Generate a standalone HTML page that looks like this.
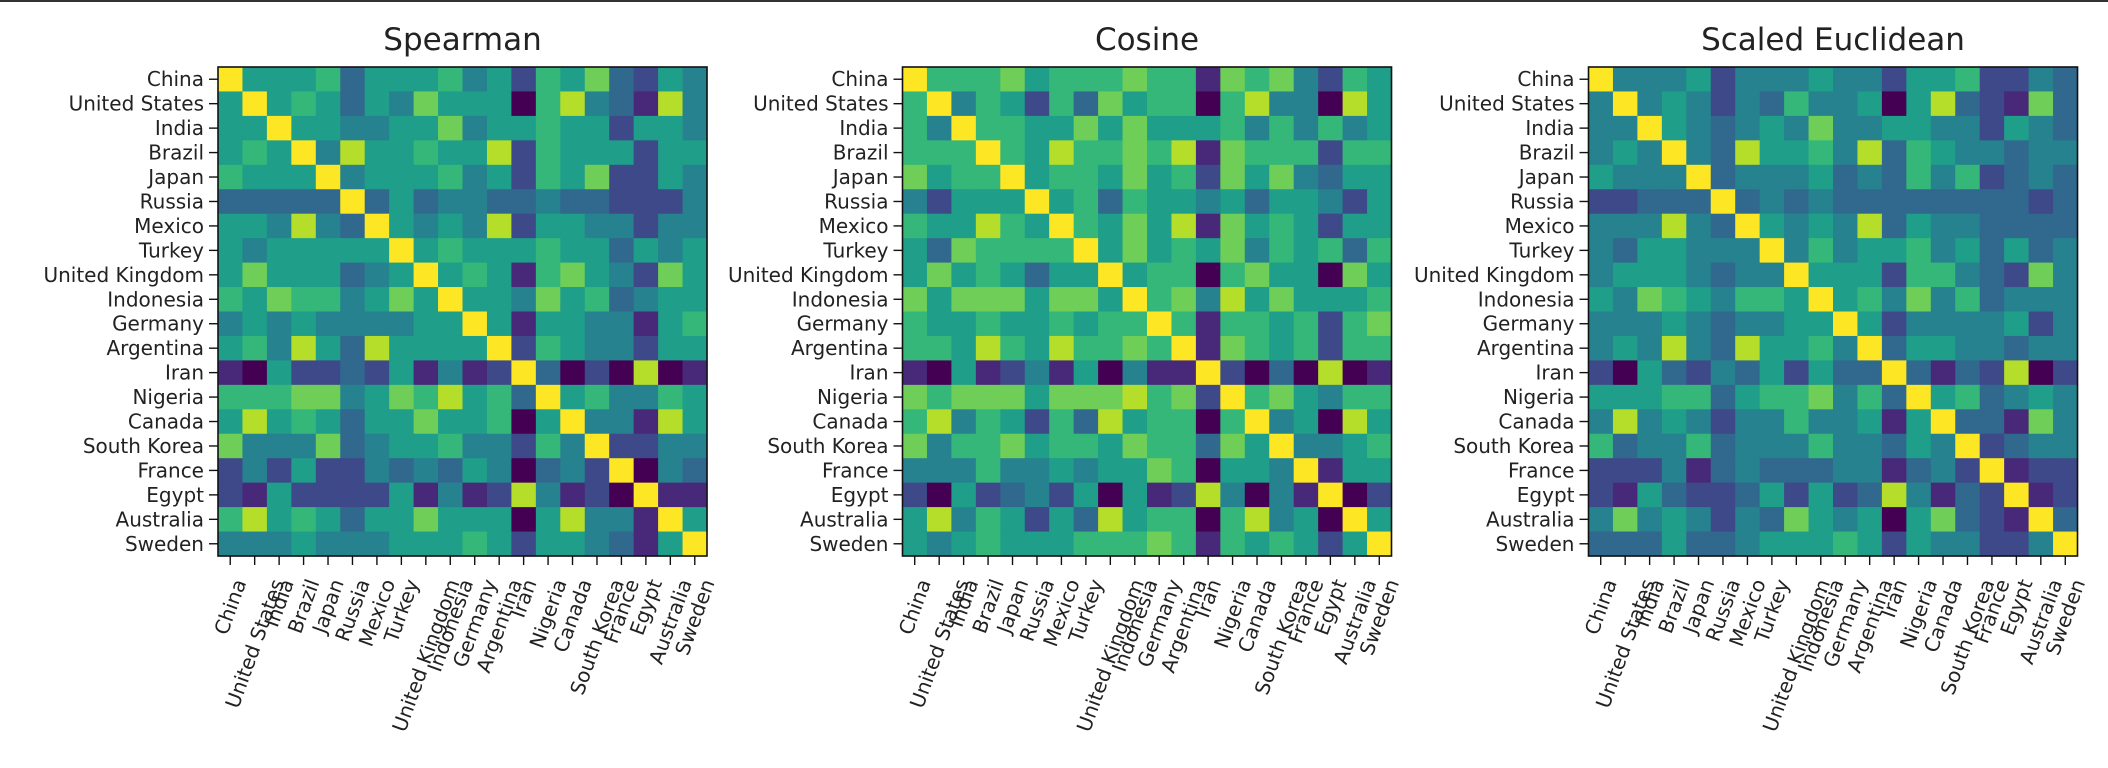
<!DOCTYPE html>
<html><head><meta charset="utf-8"><style>
html,body{margin:0;padding:0;background:#fff;}
body{width:2108px;height:768px;overflow:hidden;position:relative;}
#bar{position:absolute;left:0;top:0;width:2108px;height:2px;background:#333;}
svg{position:absolute;left:0;top:0;}
text{font-family:"DejaVu Sans","Liberation Sans",sans-serif;fill:#222;}
</style></head><body>
<div id="bar"></div>
<svg id="s" width="2108" height="768" xmlns="http://www.w3.org/2000/svg"></svg>
<script>
(function(){
var names=["China","United States","India","Brazil","Japan","Russia","Mexico","Turkey","United Kingdom","Indonesia","Germany","Argentina","Iran","Nigeria","Canada","South Korea","France","Egypt","Australia","Sweden"];
var cols=["#440154","#482878","#3e4989","#31688e","#26828e","#1f9e89","#35b779","#6ece58","#b5de2b","#fde725"];
var A=[
"95556355564526573254","59565354755506843184","55955445574556552554","56594855655826555255","65559455564526572254",
"33333935344334332224","55484395454825544244","54555559565556553545","57555345956516754275","65766457595547563455",
"45454444559515544156","56485385555926544255","10522325141293020801","66677457685639564465","58565355755605944185",
"74447345564426492244","24252243435403429043","21522225141284120911","68565355755505844195","44454445556525543159"];
var B=[
"96667566676617674265","69465263756606844085","64966557575556464645","66696586676817666266","75669566575627574355",
"42555956365545355425","65586596575817565255","53766669575657465636","57565355956606755075","75777577596748575556",
"65565565669616656267","66586586676917656266","10512415041192030801","76777577786729675466","68465263856606945085",
"74667566576637594456","44464454557605549155","20523425051284041902","58465253856606845095","54565556667616565259"];
var C=[
"94445244454425562243","49454243644505832173","44954345474455442543","45494385564836544344","54449344453436462343",
"22333934343333333323","44484395454835443333","43554449464556453534","45554344955526643274","54765466595647463444",
"44454344559524444524","45484385564935544344","20532435253393132802","55566356674639563454","48454244644515933174",
"63446344464435492344","22241343334413429122","21532235252384132912","47454243754505732193","33353345556525442249"];
var svg=document.getElementById("s");
function el(t,a,txt){var e=document.createElementNS("http://www.w3.org/2000/svg",t);for(var k in a)e.setAttribute(k,a[k]);if(txt!==undefined)e.textContent=txt;svg.appendChild(e);return e;}
var panels=[[218,"Spearman",A],[902.5,"Cosine",B],[1588.5,"Scaled Euclidean",C]];
var T0=67,W=489,cs=W/20;
panels.forEach(function(p){
 var L=p[0],M=p[2];
 for(var i=0;i<20;i++)for(var j=0;j<20;j++){
  el("rect",{x:L+j*cs,y:T0+i*cs,width:cs+0.6,height:cs+0.6,fill:cols[+M[i][j]]});
 }
 el("rect",{x:L,y:T0,width:W,height:W,fill:"none",stroke:"#111","stroke-width":1.6});
 el("text",{x:L+W/2,y:50,"text-anchor":"middle","font-size":"31"},p[1]);
 for(var k=0;k<20;k++){
  var cy=T0+(k+0.5)*cs, cx=L+(k+0.5)*cs;
  el("line",{x1:L-9,y1:cy,x2:L,y2:cy,stroke:"#111","stroke-width":1.4});
  el("line",{x1:cx,y1:T0+W,x2:cx,y2:T0+W+9,stroke:"#111","stroke-width":1.4});
  el("text",{x:L-14,y:cy+7,"text-anchor":"end","font-size":"20"},names[k]);
  var t=el("text",{"text-anchor":"end","font-size":"20","dominant-baseline":"central"},names[k]);
  var len=t.getComputedTextLength();
  var ax=cx+len*0.171, ay=T0+W+24;
  t.setAttribute("x",ax);t.setAttribute("y",ay);
  t.setAttribute("transform","rotate(-70 "+ax+" "+ay+")");
 }
});
})();
</script>
</body></html>
